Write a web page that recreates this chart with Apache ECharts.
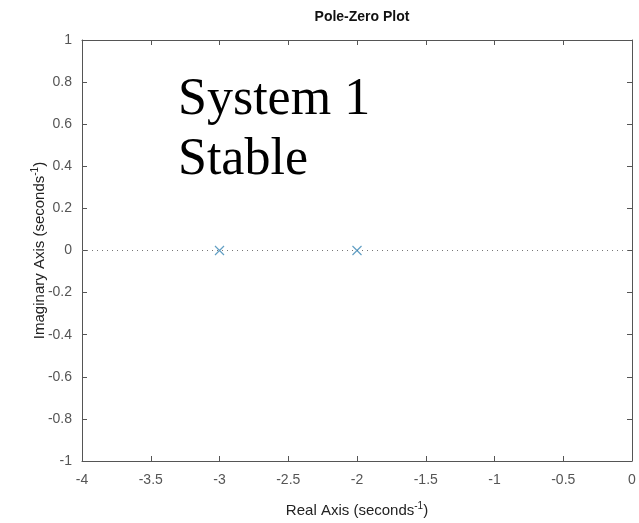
<!DOCTYPE html>
<html>
<head>
<meta charset="utf-8">
<script src="https://cdn.jsdelivr.net/npm/echarts@6/dist/echarts.min.js"></script>
<style>
  html, body { margin: 0; padding: 0; background: #fff; }
  #chart { width: 639px; height: 523px; }
</style>
</head>
<body>
<div id="chart"></div>
<script>
// poles of system 1 (real, imag)
const poles = [[-3, 0], [-2, 0]]
// dotted zero line across the real axis
const zeroLine = [[-4, 0], [0, 0]]
const xTicks = [-4, -3.5, -3, -2.5, -2, -1.5, -1, -0.5, 0]
const yTicks = [-1, -0.8, -0.6, -0.4, -0.2, 0, 0.2, 0.4, 0.6, 0.8, 1]

const chart = echarts.init(document.getElementById('chart'))

const axisColor = '#555'
const labelColor = '#555'
const font = 'Liberation Sans, Arial, sans-serif'

const nameRich = {
  n: { fontFamily: font, fontSize: 15, color: '#222' },
  s: { fontFamily: font, fontSize: 10, color: '#222', verticalAlign: 'top', padding: [0, 0, 9, 0] }
}

const option = {
  animation: false,
  title: {
    text: 'Pole-Zero Plot',
    left: 357,
    textAlign: 'center',
    top: 5,
    textStyle: { fontFamily: font, fontSize: 14, fontWeight: 'bold', color: '#111' }
  },
  grid: { left: 82, right: 7, top: 40, bottom: 61 },
  xAxis: [{
    type: 'value',
    min: xTicks[0],
    max: xTicks[xTicks.length - 1],
    interval: 0.5,
    name: '{n|Real Axis (seconds}{s|-1}{n|)}',
    nameLocation: 'middle',
    nameGap: 40,
    nameMoveOverlap: false,
    nameTextStyle: { rich: nameRich },
    axisLine: { show: true, onZero: false, lineStyle: { color: axisColor } },
    axisTick: { show: true, inside: true, length: 5, lineStyle: { color: axisColor } },
    axisLabel: { fontFamily: font, fontSize: 14, color: labelColor, margin: 12 },
    splitLine: { show: false }
  }, {
    type: 'value',
    position: 'top',
    min: xTicks[0],
    max: xTicks[xTicks.length - 1],
    interval: 0.5,
    axisLine: { show: true, onZero: false, lineStyle: { color: axisColor } },
    axisTick: { show: true, inside: true, length: 5, lineStyle: { color: axisColor } },
    axisLabel: { show: false },
    splitLine: { show: false }
  }],
  yAxis: [{
    type: 'value',
    min: yTicks[0],
    max: yTicks[yTicks.length - 1],
    interval: 0.2,
    name: '{n|Imaginary Axis (seconds}{s|-1}{n|)}',
    nameLocation: 'middle',
    nameGap: 33,
    nameMoveOverlap: false,
    nameTextStyle: { rich: nameRich },
    axisLine: { show: true, onZero: false, lineStyle: { color: axisColor } },
    axisTick: { show: true, inside: true, length: 5, lineStyle: { color: axisColor } },
    axisLabel: {
      fontFamily: font, fontSize: 14, color: labelColor, margin: 10,
      formatter: v => String(Math.round(v * 10) / 10)
    },
    splitLine: { show: false }
  }, {
    type: 'value',
    position: 'right',
    min: yTicks[0],
    max: yTicks[yTicks.length - 1],
    interval: 0.2,
    axisLine: { show: true, onZero: false, lineStyle: { color: axisColor } },
    axisTick: { show: true, inside: true, length: 5, lineStyle: { color: axisColor } },
    axisLabel: { show: false },
    splitLine: { show: false }
  }],
  graphic: [{
    type: 'text',
    left: 178,
    top: 70,
    style: {
      text: 'System 1\nStable',
      font: '52px "Liberation Serif", "Times New Roman", serif',
      lineHeight: 60,
      fill: '#000'
    }
  }],
  series: [{
    type: 'line',
    data: zeroLine,
    symbol: 'none',
    lineStyle: { color: '#777', width: 1, type: [1, 4] },
    silent: true
  }, {
    type: 'scatter',
    data: poles,
    symbol: 'path://M0,0L10,10M10,0L0,10',
    symbolSize: 9,
    itemStyle: { color: 'none', borderColor: '#3b87b5', borderWidth: 1.2 },
    z: 5
  }]
}

chart.setOption(option)
</script>
</body>
</html>
